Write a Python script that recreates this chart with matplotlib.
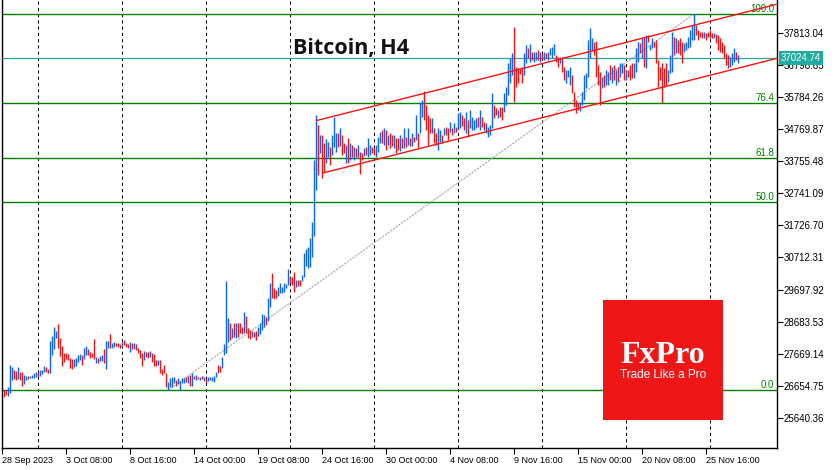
import matplotlib
matplotlib.use("Agg")
import matplotlib.pyplot as plt
from matplotlib.patches import Rectangle
from datetime import datetime, timedelta
import numpy as np

# ---------------- data ----------------
start_time = datetime(2023, 9, 28, 4, 0)   # first H4 bar
bar_hours = 4

highs = [
    # 28 Sep - 9 Oct
    26514, 26514, 26599, 27306, 27243, 27148, 27116, 27232, 27095, 27095,
    26989, 26958, 26958, 26968, 26989, 27063, 27095, 27095, 27148, 27148,
    27275, 27253, 27169, 28067, 28235, 28521, 28383, 28605, 28151, 27919,
    27676, 27697, 27644, 27517, 27496, 27496, 27539, 27623, 27655, 27623,
    27855, 27908, 27803, 27729, 27697, 28130, 27570, 27539, 27591, 27623,
    27813, 28067, 28067, 28288, 27993, 28024, 28014, 28014, 27982, 28024,
    28098, 27993, 27961, 28024, 27993, 27993, 27961, 27834, 27781, 27676,
    27750, 27729, 27729, 27750, 27697, 27644, 27465, 27465, 27465, 27169,
    27306, 27042, 26778, 26884, 26937, 26937, 26831, 26884, 26799, 26884,
    26884, 26937, 26958,
    # 13 Oct - 24 Oct
    26988, 27041, 26967, 26988, 26935, 26914, 26967, 26935, 26882, 26935,
    26935, 26935, 26956, 27093, 27305, 27273, 27569, 27970, 29976, 28783,
    28625, 28466, 28625, 28625, 28646, 28625, 28519, 28994, 28857, 28466,
    28413, 28392, 28361, 28392, 28519, 28625, 28920, 28889, 28815, 29417,
    29892, 30230, 29733, 29681, 29786, 29892, 29765, 29892, 29871, 30335,
    30103, 30103, 30261, 29997, 29997, 29997, 30156, 30842, 30969, 31053,
    31317, 31845, 33800, 35225, 34908, 34592, 34592, 34338, 34465,
    # 24 Oct - 11 Nov
    34381, 34222, 34592, 35172, 34645, 34645, 34803, 34592, 34328, 34275,
    34486, 34328, 34275, 34222, 34170, 34275, 34064, 34011, 34191, 34222,
    34486, 34275, 34222, 34170, 34275, 34539, 34697, 34750, 34803, 34750,
    34592, 34645, 34592, 34592, 34486, 34486, 34592, 34486, 34803, 34539,
    34803, 34486, 34645, 34539, 35225, 34645, 35648, 35700, 35996, 35542,
    35225, 35120, 35120, 34803, 34645, 34803, 34750, 34592, 34803, 34856,
    34803, 35014, 34803, 34961, 34856, 35299, 35331, 35225, 35120, 35331,
    35067, 35384, 35172, 35067, 35120, 35172, 35384, 35172, 35014, 34961,
    34856, 34909, 35911, 35542, 35436, 35384, 35489, 35468, 35911, 36123,
    36862, 37020, 37199, 38002, 36756, 36703, 36672, 36756, 37178, 37442,
    37337, 37474, 37231, 37231, 37231, 37284,
    # 11 Nov - 28 Nov
    37231, 37178, 37231, 37178, 37231, 37337, 37389, 37463, 37125, 37073,
    37073, 37073, 36756, 36650, 36650, 36756, 36492, 35964, 35700, 35595,
    35647, 35964, 36492, 36545, 37601, 37970, 37653, 37548, 37569, 36809,
    36598, 36439, 36492, 36650, 36598, 36809, 36756, 36809, 36650, 36756,
    36862, 36862, 36809, 36650, 36650, 36809, 36862, 36862, 37337, 37548,
    37495, 37653, 37706, 37759, 37759, 37442, 37653, 37548, 37601, 36967,
    36756, 36862, 36703, 36862, 36650, 37125, 37864, 37706, 37653, 37601,
    37653, 37548, 37495, 37548, 37706, 37917, 38076, 38424, 38076, 37917,
    37864, 37864, 37864, 37812, 37864, 37917, 37812, 37812, 37780, 37759,
    37653, 37548, 37442, 37178, 37125, 37073, 37178, 37337, 37231, 37125,
]

lows = [
    26303, 26356, 26335, 26430, 26831, 26863, 26831, 26863, 26831, 26651,
    26715, 26831, 26863, 26884, 26905, 26905, 26937, 26926, 26968, 27011,
    27095, 27074, 27042, 27042, 27623, 27813, 28151, 27834, 27591, 27275,
    27412, 27496, 27465, 27201, 27169, 27253, 27275, 27391, 27465, 27306,
    27496, 27623, 27623, 27517, 27570, 27496, 27359, 27380, 27433, 27433,
    27359, 27169, 27834, 27855, 27855, 27887, 27908, 27887, 27855, 27887,
    27940, 27887, 27834, 27729, 27813, 27813, 27781, 27676, 27517, 27275,
    27465, 27570, 27517, 27570, 27412, 27285, 27285, 27306, 27042, 26989,
    27042, 26620, 26508, 26620, 26620, 26725, 26651, 26694, 26514, 26725,
    26725, 26778, 26725,
    26639, 26639, 26851, 26830, 26851, 26830, 26851, 26809, 26745, 26809,
    26830, 26809, 26777, 26935, 27041, 27093, 27199, 27621, 27695, 28044,
    28097, 28150, 28202, 28150, 28202, 28308, 28287, 28308, 28329, 28150,
    28118, 28181, 28202, 28097, 28223, 28287, 28413, 28519, 28572, 28709,
    29131, 29417, 29385, 29417, 29491, 29575, 29575, 29628, 29733, 29839,
    29892, 29839, 29628, 29786, 29807, 29807, 29976, 30082, 30441, 30367,
    30420, 30737, 31393, 32850, 33325, 34022, 33230, 33420, 33705,
    33906, 33642, 33958, 34222, 34064, 34222, 34243, 33958, 34011, 33716,
    33716, 33800, 33906, 33800, 33906, 33906, 33357, 33800, 33927, 33958,
    33906, 33958, 34011, 33958, 33906, 34064, 34328, 34349, 34275, 34117,
    34275, 34170, 34243, 34170, 34032, 34117, 34096, 34170, 34170, 34222,
    34275, 34243, 34243, 34381, 34433, 34170, 34645, 35172, 35067, 34750,
    34275, 34645, 34645, 34328, 34275, 34117, 34381, 34328, 34592, 34592,
    34433, 34697, 34592, 34645, 34697, 34750, 34803, 34877, 34750, 34645,
    34539, 34803, 34750, 34750, 34803, 34856, 34750, 34856, 34750, 34645,
    34539, 34592, 34803, 35120, 35225, 35120, 35172, 35067, 35331, 35542,
    35859, 36228, 36492, 35648, 36123, 36228, 36524, 36228, 36492, 36862,
    37020, 36914, 36967, 36914, 36967, 36967,
    36914, 36967, 36967, 37020, 36967, 37125, 37020, 37125, 36914, 36756,
    36862, 36598, 36334, 36228, 36439, 36175, 35911, 35489, 35278, 35384,
    35352, 35542, 35700, 36070, 36439, 37020, 37284, 37125, 36439, 36175,
    35542, 36070, 36123, 36175, 36175, 36334, 36228, 36334, 36175, 36281,
    36439, 36545, 36334, 36334, 36439, 36334, 36386, 36386, 36598, 36914,
    37178, 37020, 36756, 36703, 37548, 37284, 37337, 37389, 36862, 36123,
    36334, 35595, 36123, 36175, 36281, 36545, 36598, 37125, 37178, 37178,
    37125, 36862, 37231, 37284, 37337, 37389, 37601, 37601, 37759, 37601,
    37706, 37653, 37653, 37601, 37706, 37653, 37653, 37653, 37495, 37284,
    37231, 37178, 37020, 36809, 36703, 36756, 36809, 36914, 36967, 36862,
]

# b = up bar (blue), r = down bar (red)
bar_dirs = (
    "rrbbbrrbrr" "bbrbbbbrbb" "brrbbbbrrr" "rrrrrbbbbr" "bbrrrrbrbb"
    "rbbrbbrrrb" "rrrbrbrrrr" "brrbrrrbrr" "rrbbbbrbbb" "brb"
    "rbrbrbrbrb" "bbbbrrbbbb" "rbrbrrrbrr" "rbrrbbbbrb" "brrrbbbbbb"
    "rrrbrrbbbb" "bbbbrbrrb"
    "brbbbrbrrb" "rbrbrbrrbr" "bbrrbbbrbr" "brrbrrbrbr" "brbrbrbbrr"
    "rrbrrbbrbr" "rbrbrbbrrb" "rbbbbrbrrb" "bbbrrbrrbb" "bbbrrrrrbb"
    "rbrbbr"
    "brbrbbbbrr" "brrbbbrrrr" "bbbbbbbrrr" "rbrbbrbrbr" "bbrbrrrbbb"
    "rbrbrbbrrr" "rrrrbbbrbr" "rrbbbbbbrr" "rrbrrrrbrr" "rrrrrbbbrb"
)

y_ticks = [25640.36, 26654.75, 27669.14, 28683.53, 29697.92, 30712.31,
           31726.70, 32741.09, 33755.48, 34769.87, 35784.26, 36798.65,
           37813.04]

x_tick_labels = ["28 Sep 2023", "3 Oct 08:00", "8 Oct 16:00", "14 Oct 00:00",
                 "19 Oct 08:00", "24 Oct 16:00", "30 Oct 00:00", "4 Nov 08:00",
                 "9 Nov 16:00", "15 Nov 00:00", "20 Nov 08:00", "25 Nov 16:00"]
x_tick_times = ["2023-09-28 00:00", "2023-10-03 08:00", "2023-10-08 16:00",
                "2023-10-14 00:00", "2023-10-19 08:00", "2023-10-24 16:00",
                "2023-10-30 00:00", "2023-11-04 08:00", "2023-11-09 16:00",
                "2023-11-15 00:00", "2023-11-20 08:00", "2023-11-25 16:00"]
grid_times = ["2023-10-01 00:00", "2023-10-08 00:00", "2023-10-15 00:00",
              "2023-10-22 00:00", "2023-10-29 00:00", "2023-11-05 00:00",
              "2023-11-12 00:00", "2023-11-19 00:00", "2023-11-26 00:00"]

fib_levels = [0.0, 50.0, 61.8, 76.4, 100.0]
fib_low_bar, fib_high_bar = 82, 345
channel_start_bars = [156, 159]
channel_start_prices = [35045, 33380]
channel_slope = 16.0          # price per bar
current_price = 37024.74

title = "Bitcoin, H4"

# ---------------- helpers ----------------
def to_index(s):
    t = datetime.strptime(s, "%Y-%m-%d %H:%M")
    return (t - start_time) / timedelta(hours=bar_hours)

BLUE = "#0A64FF"
RED = "#F21414"
GREEN = "#008000"
TEAL = "#20ABA0"

W, H = 835, 470
fig = plt.figure(figsize=(W / 100, H / 100), dpi=100)
fig.patch.set_facecolor("white")
ax = fig.add_axes([2 / W, 22 / H, 775 / W, 448 / H])
ax.set_facecolor("white")

n = len(highs)
xs = np.arange(n)
cols = [BLUE if c == "b" else RED for c in bar_dirs]

ax.set_xlim(-1, 386.5)
ax.set_ylim(24679, 38867)

# vertical dashed grid
for g in grid_times:
    ax.axvline(to_index(g), color="black", lw=0.75, ls=(0, (3, 3)), zorder=1)

# fibonacci levels
p0 = lows[fib_low_bar]
p1 = highs[fib_high_bar]
for lv in fib_levels:
    p = p0 + (p1 - p0) * lv / 100.0
    ax.axhline(p, color=GREEN, lw=1.0, zorder=2)
    ax.text(1 - 3 / 775, p, f"{lv:.1f}", transform=ax.get_yaxis_transform(),
            ha="right", va="bottom", color=GREEN, fontsize=7,
            family="Liberation Sans", zorder=4)
ax.plot([fib_low_bar, fib_high_bar], [p0, p1], color="#A8A8A8", lw=0.8,
        ls=(0, (2, 1)), zorder=2)

# current price line
ax.axhline(current_price, color=TEAL, lw=0.9, zorder=2)

# bars
ax.vlines(xs, lows, highs, colors=cols, lw=1.0, zorder=3)

# channel
xr = 386.5
for b0, p in zip(channel_start_bars, channel_start_prices):
    ax.plot([b0, xr], [p, p + channel_slope * (xr - b0)], color="#FF1010",
            lw=1.0, zorder=4, solid_capstyle="butt")

# axes styling
ax.spines["top"].set_visible(False)
for s in ["left", "right", "bottom"]:
    ax.spines[s].set_color("black")
    ax.spines[s].set_linewidth(1.0)

ax.yaxis.tick_right()
ax.set_yticks(y_ticks)
ax.set_yticklabels([f"{v:.2f}" for v in y_ticks])
ax.tick_params(axis="y", direction="out", length=4, width=0.8, pad=1,
               labelsize=7, colors="black")
ax.set_xticks([to_index(t) for t in x_tick_times])
ax.set_xticklabels(x_tick_labels)
ax.tick_params(axis="x", direction="out", length=4, width=0.8, pad=2,
               labelsize=6.5, colors="black")
for lbl in ax.get_xticklabels():
    lbl.set_ha("left")
    lbl.set_family("Liberation Sans")
for lbl in ax.get_yticklabels():
    lbl.set_family("Liberation Sans")

# current price tag (covers part of the axis label behind it, as in the source)
ax.text(1 + 4 / 775, current_price, f"{current_price:.2f}",
        transform=ax.get_yaxis_transform(), ha="left", va="center",
        color="white", fontsize=7, family="Liberation Sans",
        bbox=dict(boxstyle="square,pad=0.18", fc=TEAL, ec="none"),
        clip_on=False, zorder=6)

# title
fig.text(293 / W, (H - 54) / H, title, fontsize=15.5, fontweight="bold",
         family="Open Sans", color="#111111", ha="left", va="baseline")

# logo
fig.add_artist(Rectangle((603 / W, (H - 420) / H), 120 / W, 120 / H,
                         transform=fig.transFigure, fc="#EE1616", ec="none",
                         zorder=5))
fig.text(663 / W, (H - 363) / H, "FxPro", fontsize=23, fontweight="bold",
         family="Liberation Serif", color="white", ha="center",
         va="baseline", zorder=6)
fig.text(663 / W, (H - 378) / H, "Trade Like a Pro", fontsize=8.5,
         family="Liberation Sans", color="white", ha="center", va="baseline",
         zorder=6)

fig.savefig("out.png", dpi=100, facecolor="white")
